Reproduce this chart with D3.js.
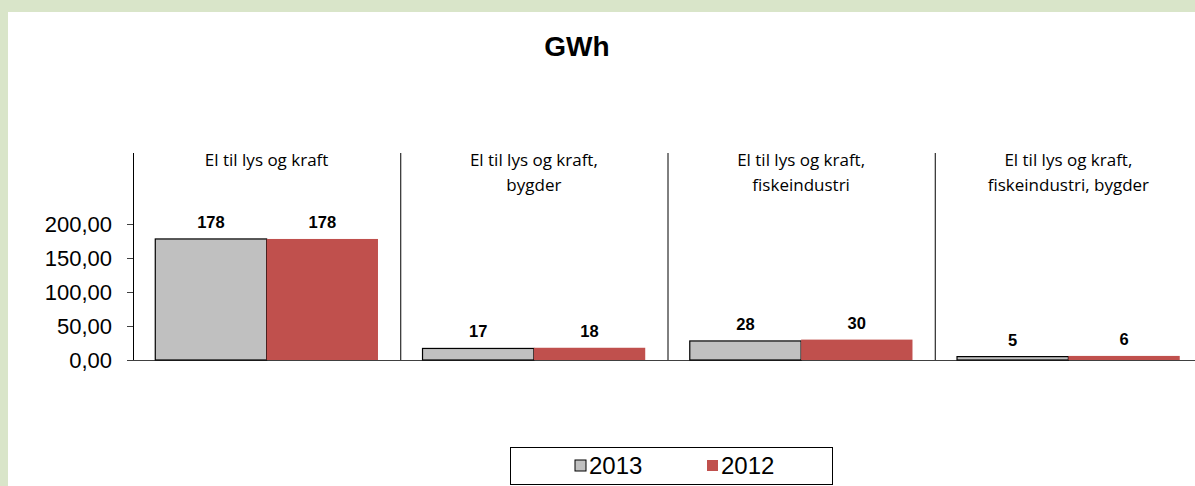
<!DOCTYPE html>
<html>
<head>
<meta charset="utf-8">
<script src="https://cdn.jsdelivr.net/npm/d3@7"></script>
<style>
  body { margin: 0; background: #fff; }
  svg { display: block; }
</style>
</head>
<body>
<svg id="chart" width="1195" height="486"></svg>
<script>
var categories = [
  ["El til lys og kraft"],
  ["El til lys og kraft,", "bygder"],
  ["El til lys og kraft,", "fiskeindustri"],
  ["El til lys og kraft,", "fiskeindustri, bygder"]
];
var series = ["2013", "2012"];
var values2013 = [178, 17, 28, 5];
var values2012 = [178, 18, 30, 6];
var yTicks = [0, 50, 100, 150, 200];

var colors = { "2013": "#c0c0c0", "2012": "#c0504d" };

var svg = d3.select("#chart");

// green frame
svg.append("rect").attr("width", 1195).attr("height", 486).attr("fill", "#d9e5c9");
svg.append("rect").attr("x", 8).attr("y", 12).attr("width", 1187).attr("height", 474).attr("fill", "#fff");

var plotLeft = 133, plotRight = 1202, plotTop = 153, plotBottom = 360;

var x = d3.scaleBand()
    .domain(d3.range(categories.length))
    .range([plotLeft, plotRight]);

var xs = d3.scaleBand()
    .domain(series)
    .range([0, x.bandwidth()])
    .paddingOuter(0.2);

var y = d3.scaleLinear()
    .domain([0, 200])
    .range([plotBottom, 224]);

svg.append("text")
    .attr("x", 577).attr("y", 56)
    .attr("text-anchor", "middle")
    .style("font-family", "Liberation Sans, Arial, sans-serif")
    .style("font-weight", "bold")
    .style("font-size", "28px")
    .text("GWh");

// y axis
var yAxis = d3.axisLeft(y)
    .tickValues(yTicks)
    .tickSize(6)
    .tickFormat(function(d) { return d3.format(".2f")(d).replace(".", ","); });

var ya = svg.append("g")
    .attr("transform", "translate(" + plotLeft + ",0)")
    .call(yAxis);
ya.select(".domain").remove();
ya.selectAll("line").attr("stroke", "#404040");
ya.selectAll("text")
    .attr("x", -21)
    .attr("dy", "0.36em")
    .style("font-family", "Liberation Sans, Arial, sans-serif")
    .style("font-size", "22px")
    .attr("fill", "#000");

// panel dividers
svg.selectAll(".divider")
    .data(d3.range(categories.length))
    .enter().append("line")
    .attr("x1", function(d) { return x(d) + 0.5; })
    .attr("x2", function(d) { return x(d) + 0.5; })
    .attr("y1", plotTop).attr("y2", plotBottom)
    .attr("stroke", "#000");

// baseline
svg.append("line")
    .attr("x1", plotLeft - 6).attr("x2", 1195)
    .attr("y1", plotBottom + 0.5).attr("y2", plotBottom + 0.5)
    .attr("stroke", "#404040");

// category labels
var cat = svg.selectAll(".cat")
    .data(categories)
    .enter().append("text")
    .attr("text-anchor", "middle")
    .style("font-family", "Open Sans, sans-serif")
    .style("font-size", "17px")
    .attr("fill", "#000");
cat.selectAll("tspan")
    .data(function(d, i) { return d.map(function(t) { return { t: t, i: i }; }); })
    .enter().append("tspan")
    .attr("x", function(d) { return x(d.i) + x.bandwidth() / 2; })
    .attr("y", function(d, j) { return 166 + j * 25; })
    .text(function(d) { return d.t; });

// bars
var rows = [];
categories.forEach(function(c, i) {
  rows.push({ i: i, s: "2013", v: values2013[i] });
  rows.push({ i: i, s: "2012", v: values2012[i] });
});

svg.selectAll(".bar")
    .data(rows)
    .enter().append("rect")
    .attr("x", function(d) { return x(d.i) + xs(d.s); })
    .attr("y", function(d) { return y(d.v); })
    .attr("width", xs.bandwidth())
    .attr("height", function(d) { return plotBottom - y(d.v); })
    .attr("fill", function(d) { return colors[d.s]; })
    .attr("stroke", function(d) { return d.s === "2013" ? "#000" : "none"; })
    .attr("stroke-width", 1.2);

svg.selectAll(".val")
    .data(rows)
    .enter().append("text")
    .attr("x", function(d) { return x(d.i) + xs(d.s) + xs.bandwidth() / 2; })
    .attr("y", function(d) { return y(d.v) - 11; })
    .attr("text-anchor", "middle")
    .style("font-family", "Liberation Sans, Arial, sans-serif")
    .style("font-weight", "bold")
    .style("font-size", "16.5px")
    .text(function(d) { return d.v; });

// legend
var lg = svg.append("g");
lg.append("rect")
    .attr("x", 510.5).attr("y", 447.5).attr("width", 322).attr("height", 37)
    .attr("fill", "#fff").attr("stroke", "#000");
var li = lg.selectAll(".li")
    .data(series)
    .enter().append("g")
    .attr("transform", function(d, i) { return "translate(" + (575 + i * 132) + ",460)"; });
li.append("rect")
    .attr("width", 11).attr("height", 11)
    .attr("fill", function(d) { return colors[d]; })
    .attr("stroke", function(d) { return d === "2013" ? "#000" : "none"; });
li.append("text")
    .attr("x", 14).attr("y", 14)
    .style("font-family", "Liberation Sans, Arial, sans-serif")
    .style("font-size", "24px")
    .text(function(d) { return d; });
</script>
</body>
</html>
